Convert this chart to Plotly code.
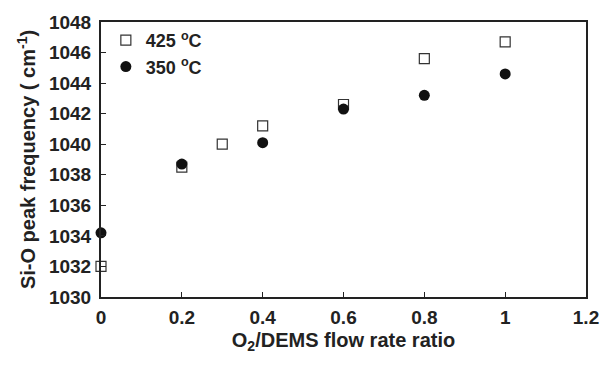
import plotly.graph_objects as go

x425 = [0, 0.2, 0.3, 0.4, 0.6, 0.8, 1.0]
y425 = [1032.0, 1038.5, 1040.0, 1041.2, 1042.6, 1045.6, 1046.7]
x350 = [0, 0.2, 0.4, 0.6, 0.8, 1.0]
y350 = [1034.2, 1038.7, 1040.1, 1042.3, 1043.2, 1044.6]

xticks = [0, 0.2, 0.4, 0.6, 0.8, 1, 1.2]
xticklabels = ["0", "0.2", "0.4", "0.6", "0.8", "1", "1.2"]
yticks = list(range(1030, 1049, 2))

font = "Liberation Sans, Arial, sans-serif"
ink = "#222222"

fig = go.Figure()
fig.add_trace(go.Scatter(
    x=x425, y=y425, mode="markers", name="<b>425 <sup>o</sup>C</b>",
    marker=dict(symbol="square", size=10, color="white",
                line=dict(color="#333333", width=1.2)),
    cliponaxis=False))
fig.add_trace(go.Scatter(
    x=x350, y=y350, mode="markers", name="<b>350 <sup>o</sup>C</b>",
    marker=dict(symbol="circle", size=11, color="#111111",
                line=dict(color="#111111", width=0)),
    cliponaxis=False))

axis_common = dict(
    showgrid=False, zeroline=False, showline=True, linecolor=ink,
    linewidth=2, mirror=True, ticks="inside", ticklen=5, tickwidth=1,
    tickcolor=ink,
    tickfont=dict(family=font, size=19, color=ink),
)

fig.update_layout(
    width=613, height=365,
    margin=dict(l=101, r=27, t=16, b=68),
    paper_bgcolor="white", plot_bgcolor="white",
    font=dict(family=font, color=ink),
    showlegend=True,
    legend=dict(x=0.01, y=1.0, xanchor="left", yanchor="top",
                bgcolor="rgba(0,0,0,0)",
                font=dict(family=font, size=18, color=ink),
                itemwidth=30, tracegroupgap=0),
    xaxis=dict(range=[0, 1.2], tickvals=xticks,
               ticktext=["<b>%s</b>" % t for t in xticklabels],
               ticklabelstandoff=2,
               title=dict(text="<b>O<sub>2</sub>/DEMS flow rate ratio</b>",
                          font=dict(family=font, size=20, color=ink),
                          standoff=6),
               **axis_common),
    yaxis=dict(range=[1030, 1048], tickvals=yticks,
               ticktext=["<b>%d</b>" % v for v in yticks],
               ticklabelstandoff=4,
               title=dict(text="<b>Si-O peak frequency ( cm<sup>-1</sup>)</b>",
                          font=dict(family=font, size=20, color=ink),
                          standoff=8),
               **axis_common),
)

fig.write_html("out.html")
